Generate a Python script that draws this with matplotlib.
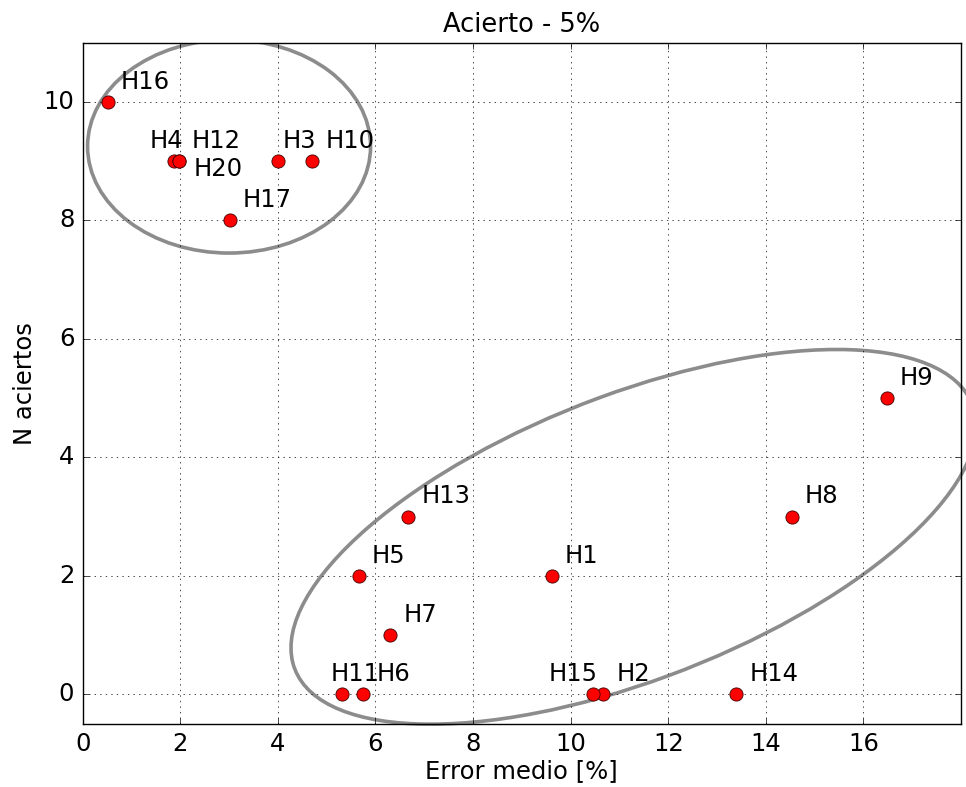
import matplotlib
matplotlib.use("Agg")
import matplotlib.pyplot as plt
from matplotlib.patches import Ellipse

plt.style.use("classic")
plt.rcParams["font.family"] = ["DejaVu Sans"]

# datos
nombres = ["H1", "H2", "H3", "H4", "H5", "H6", "H7", "H8", "H9", "H10",
           "H11", "H12", "H13", "H14", "H15", "H16", "H17", "H20"]
error_medio = [9.61, 10.67, 4.0, 1.88, 5.66, 5.75, 6.3, 14.53, 16.48, 4.7,
               5.31, 1.97, 6.67, 13.39, 10.45, 0.51, 3.01, 1.97]
n_aciertos = [2, 0, 9, 9, 2, 0, 1, 3, 5, 9,
              0, 9, 3, 0, 0, 10, 8, 9]

# desplazamiento de etiquetas (puntos), por defecto (9.5, 9.5)
offsets = {
    "H3": (3.5, 9.5),
    "H4": (-18, 9.5),
    "H11": (-8, 9.5),
    "H15": (-32, 9.5),
    "H20": (11, -10.5),
}

fig = plt.figure(figsize=(9.66, 7.87), dpi=100)
ax = fig.add_axes([0.0856, 0.080, 0.9092, 0.8657])

ax.plot(error_medio, n_aciertos, "o", color="red", markersize=9.5,
        markeredgecolor="#400000", markeredgewidth=0.6, zorder=3)

for nom, x, y in zip(nombres, error_medio, n_aciertos):
    ax.annotate(nom, (x, y), xytext=offsets.get(nom, (9.5, 9.5)),
                textcoords="offset points", fontsize=17.5, zorder=4)

# grupos
ax.add_patch(Ellipse((3.0, 9.25), 5.8, 3.6, angle=0, fill=False,
                     edgecolor="0.55", linewidth=2.6, zorder=2))
ax.add_patch(Ellipse((11.29, 2.66), 14.6, 4.9, angle=16.9, fill=False,
                     edgecolor="0.55", linewidth=2.6, zorder=2, clip_on=False))

ax.set_xlim(0, 18)
ax.set_ylim(-0.5, 11)
ax.set_xticks(range(0, 17, 2))
ax.set_yticks(range(0, 11, 2))
ax.tick_params(labelsize=17.5, pad=6)
ax.grid(True)

ax.set_title("Acierto - 5%", fontsize=18.5, pad=8)
ax.set_xlabel("Error medio [%]", fontsize=17.5, labelpad=2)
ax.set_ylabel("N aciertos", fontsize=17.5)

fig.savefig("out.png", dpi=100)
